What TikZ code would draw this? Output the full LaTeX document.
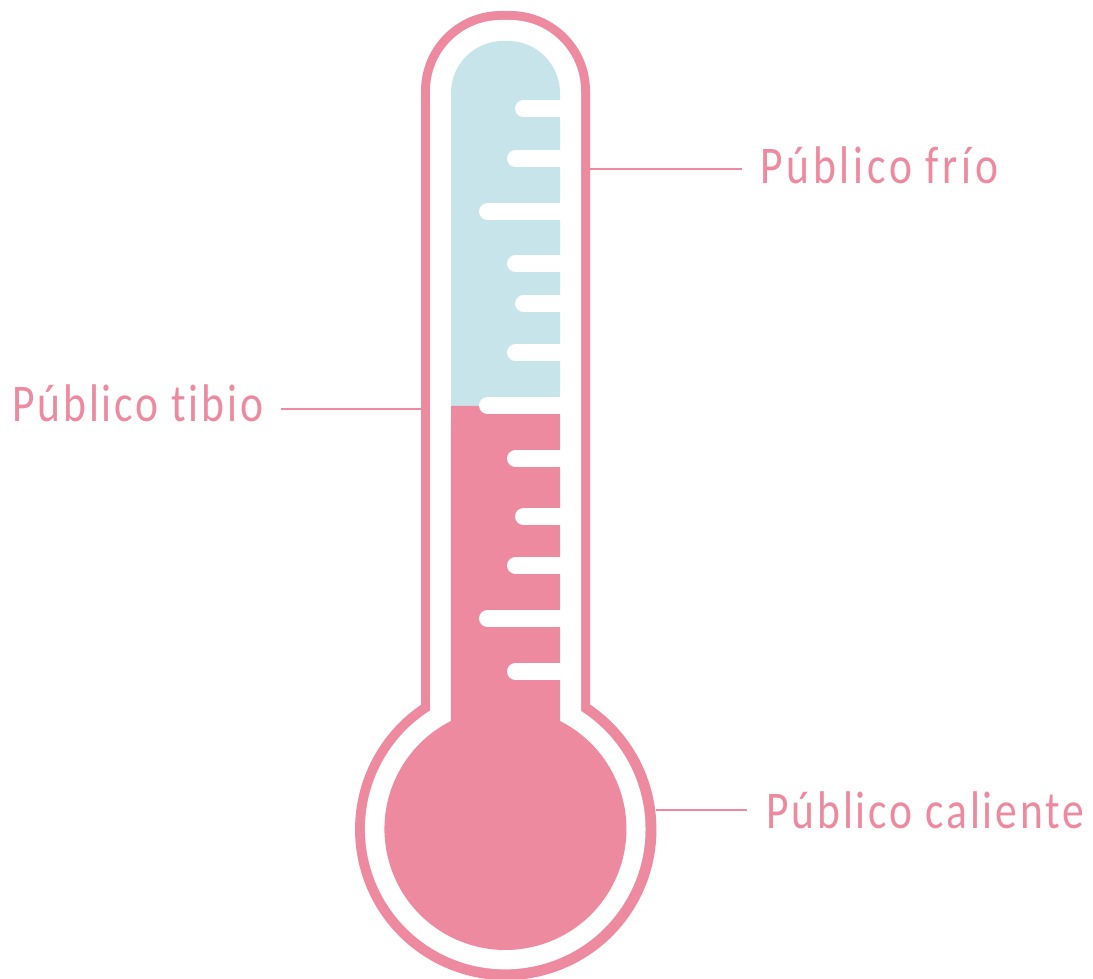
\documentclass[tikz,border=0pt]{standalone}
\usepackage{fontspec}
\setmainfont[LetterSpace=5.5,FakeStretch=0.82,Ligatures={NoCommon,NoRare}]{Carlito}
\newfontfamily\frioface[LetterSpace=7.2,FakeStretch=0.82,Ligatures={NoCommon,NoRare}]{Carlito}
\definecolor{rosa}{HTML}{ED8AA0}
\definecolor{celeste}{HTML}{C6E4E9}
\tikzset{
  tick/.style={draw=white,line width=17pt,line cap=round},
  leader/.style={draw=rosa,line width=2pt},
  etiqueta/.style={text=rosa,font=\fontsize{53}{60}\selectfont,inner sep=0pt,anchor=base west}
}
\begin{document}
\begin{tikzpicture}[x=1pt,y=1pt]
\useasboundingbox (0,0) rectangle (1093,978);
% glass outline: outer and inner contours
\fill[rosa] (421,273.5) -- (421,887) arc[start angle=180,end angle=90,radius=80] -- (510,967)
  arc[start angle=90,end angle=0,radius=80] -- (590,273.5)
  arc[start angle=56,end angle=-236,radius=150.7] -- cycle;
\fill[white] (430,267) -- (430,887) arc[start angle=180,end angle=90,radius=71] -- (510,958)
  arc[start angle=90,end angle=0,radius=71] -- (581,267)
  arc[start angle=57.3,end angle=-237.3,radius=140.3] -- cycle;
% liquid
\fill[celeste] (451,572) -- (451,885) arc[start angle=180,end angle=90,radius=52] -- (508,937)
  arc[start angle=90,end angle=0,radius=52] -- (560,572) -- cycle;
\fill[rosa] (451,572) -- (560,572) -- (560,257) arc[start angle=63.2,end angle=-243.2,radius=121] -- cycle;
% scale marks
\foreach \xl/\yy in {515/108.5,507/158.5,479/211.5,507/263.5,515/303.5,507/352.5,479/405.5,507/458.5,515/516.5,507/565.5,479/618.5,507/671.5}
  \draw[tick] (\xl+8.5,978-\yy) -- (560,978-\yy);
% labels
\node[etiqueta] (frio) at (760,794) {\frioface Público frío};
\node[etiqueta] (tibio) at (12,556) {Público tibio};
\node[etiqueta] (caliente) at (766,149.5) {Público caliente};
% leaders
\coordinate (a1) at (590,809);
\coordinate (a2) at (742,809);
\coordinate (b1) at (421,569);
\coordinate (b2) at (281,569);
\coordinate (c1) at (656,168);
\coordinate (c2) at (747,168);
\draw[leader] (a1) -- (a2);
\draw[leader] (b1) -- (b2);
\draw[leader] (c1) -- (c2);
\end{tikzpicture}
\end{document}
